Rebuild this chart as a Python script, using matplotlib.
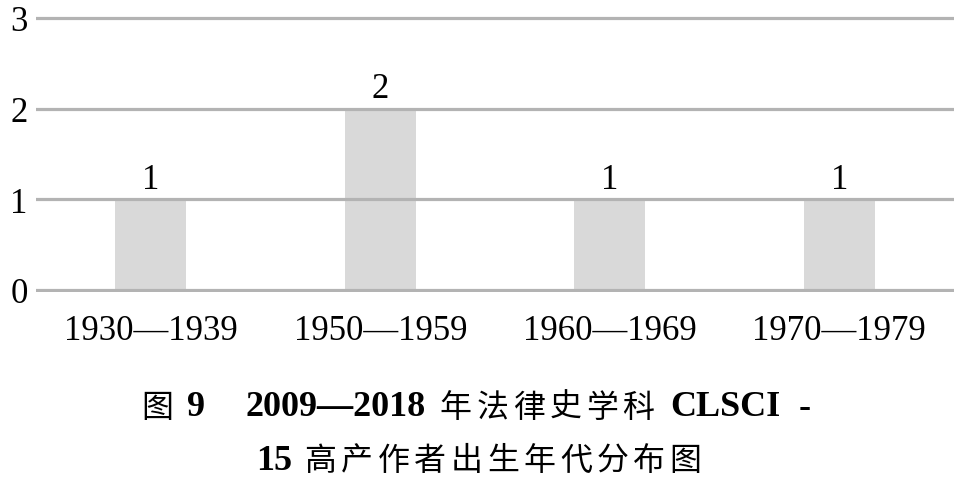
import matplotlib
matplotlib.use('Agg')
import matplotlib.pyplot as plt
import numpy as np

# 数据
decades = ['1930—1939', '1950—1959', '1960—1969', '1970—1979']
counts = [1, 2, 1, 1]
yticks = [0, 1, 2, 3]

# 图题 (文字, 类型, 后面留的空白 px)
caption1 = [('图', 'cjk', 14), ('9', 'num', 40), ('2009—2018', 'num', 14),
            ('年法律史学科', 'cjk', 16), ('CLSCI', 'num', 18), ('-', 'num', 0)]
caption2 = [('15', 'num', 12), ('高产作者出生年代分布图', 'cjk', 0)]

fig = plt.figure(figsize=(9.57, 4.85), dpi=100)
ax = fig.add_axes([0.0376, 0.3963, 0.9594, 0.5683])

x = np.arange(len(decades))
ax.bar(x, counts, width=0.31, color='#d9d9d9', zorder=1)
for v in yticks:
    ax.axhline(v, color='#b3b3b3', lw=2.3, zorder=2)

for xi, c in zip(x, counts):
    ax.text(xi, c + 0.04, str(c), ha='center', va='bottom',
            fontsize=25, family='Liberation Serif')

ax.set_xlim(-0.5, len(decades) - 0.5)
ax.set_ylim(-0.02, 3.02)
ax.set_xticks(x)
ax.set_xticklabels(decades, fontsize=25, family='Liberation Serif')
ax.set_yticks(yticks)
ax.set_yticklabels([str(v) for v in yticks], fontsize=25, family='Liberation Serif')
ax.tick_params(axis='both', length=0)
ax.tick_params(axis='x', pad=16)
ax.tick_params(axis='y', pad=6)
for s in ax.spines.values():
    s.set_visible(False)

# 图题：中文字间距加宽，数字用粗体衬线
W, H = fig.get_size_inches() * fig.dpi
renderer = fig.canvas.get_renderer()
cjk_pitch = 36.5


def put(s, kind, xpx, ypx):
    if kind == 'cjk':
        t = fig.text(xpx / W, ypx / H, s, ha='left', va='center',
                     fontsize=23, weight='medium', family='Noto Sans CJK SC')
    else:
        t = fig.text(xpx / W, ypx / H, s, ha='left', va='center',
                     fontsize=26, weight='bold', family='Liberation Serif')
    return t, t.get_window_extent(renderer).width


def draw_line(pieces, ypx, xc):
    arts = []
    xpx = 0
    for s, kind, gap in pieces:
        if kind == 'cjk':
            for i, ch in enumerate(s):
                t, w = put(ch, kind, xpx, ypx)
                arts.append(t)
                xpx += cjk_pitch if i < len(s) - 1 else w
        else:
            t, w = put(s, kind, xpx, ypx)
            arts.append(t)
            xpx += w
        xpx += gap
    shift = xc - xpx / 2
    for t in arts:
        px, py = t.get_position()
        t.set_position((px + shift / W, py))


draw_line(caption1, H - 408, 476)
draw_line(caption2, H - 461, 479)

fig.savefig('out.png', dpi=100)
